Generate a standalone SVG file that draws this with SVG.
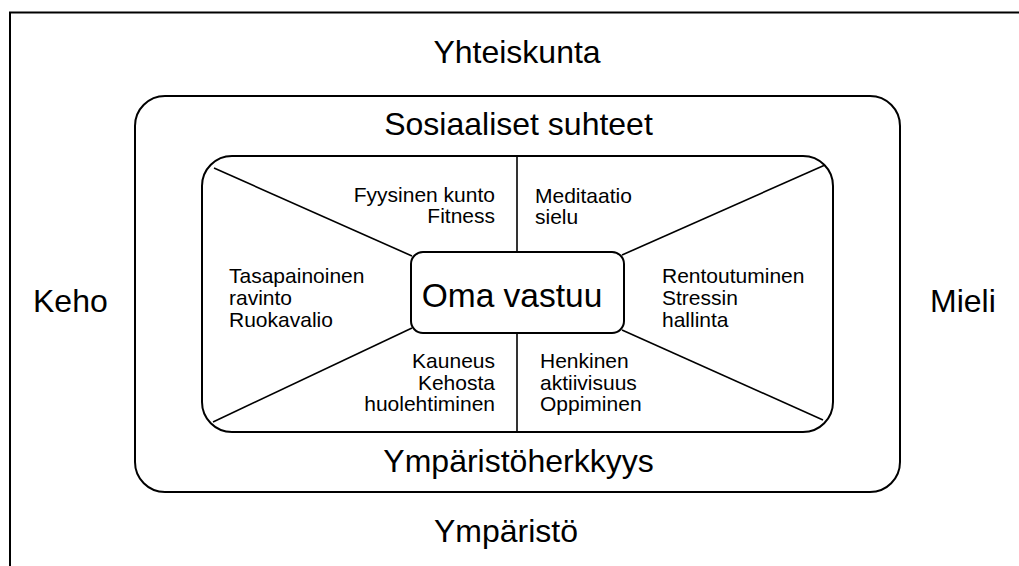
<svg xmlns="http://www.w3.org/2000/svg" width="1019" height="566" viewBox="0 0 1019 566">
<style>
.ln{fill:none;stroke:#000;stroke-width:2}
.th{fill:none;stroke:#000;stroke-width:1.6}
.big{font-family:"Liberation Sans",Arial,sans-serif;font-size:32px;fill:#000}
.ctr{font-family:"Liberation Sans",Arial,sans-serif;font-size:33.5px;fill:#000}
.sm{font-family:"Liberation Sans",Arial,sans-serif;font-size:21px;fill:#000}
.c{text-anchor:middle}
.r{text-anchor:end}
</style>
<rect width="1019" height="566" fill="#fff"/>
<g id="frame">
<path class="ln" d="M10,566 V12.5 H1019"/>
<text class="big c" x="517" y="63">Yhteiskunta</text>
<text class="big c" x="506" y="542">Ympäristö</text>
<text class="big" x="33" y="312">Keho</text>
<text class="big" x="930" y="312">Mieli</text>
</g>
<g id="social">
<rect class="ln" x="135" y="96" width="765" height="396" rx="30" ry="30"/>
<text class="big c" x="518.5" y="135">Sosiaaliset suhteet</text>
<text class="big c" x="518.5" y="472">Ympäristöherkkyys</text>
</g>
<g id="inner">
<rect class="ln" x="202" y="156" width="631" height="276" rx="30" ry="30"/>
</g>
<g id="connectors">
<line class="th" x1="214" y1="168" x2="412" y2="256"/>
<line class="th" x1="213" y1="422" x2="412" y2="328"/>
<line class="th" x1="825" y1="165" x2="622" y2="255"/>
<line class="th" x1="823" y1="420" x2="622" y2="330"/>
<line class="th" x1="517" y1="156" x2="517" y2="252"/>
<line class="th" x1="517" y1="333" x2="517" y2="432"/>
</g>
<g id="center">
<rect class="ln" x="411" y="252" width="213" height="81" rx="12" ry="12" fill="#fff"/>
<text class="ctr c" x="512" y="307">Oma vastuu</text>
</g>
<g id="fitness">
<text class="sm r" x="495" y="202">Fyysinen kunto</text>
<text class="sm r" x="495" y="223">Fitness</text>
</g>
<g id="meditation">
<text class="sm" x="535" y="203">Meditaatio</text>
<text class="sm" x="535" y="224">sielu</text>
</g>
<g id="nutrition">
<text class="sm" x="229" y="283">Tasapainoinen</text>
<text class="sm" x="229" y="305">ravinto</text>
<text class="sm" x="229" y="327">Ruokavalio</text>
</g>
<g id="relaxation">
<text class="sm" x="662" y="283">Rentoutuminen</text>
<text class="sm" x="662" y="305">Stressin</text>
<text class="sm" x="662" y="327">hallinta</text>
</g>
<g id="beauty">
<text class="sm r" x="495" y="368">Kauneus</text>
<text class="sm r" x="495" y="389.5">Kehosta</text>
<text class="sm r" x="495" y="411">huolehtiminen</text>
</g>
<g id="mental">
<text class="sm" x="540" y="368">Henkinen</text>
<text class="sm" x="540" y="389.5">aktiivisuus</text>
<text class="sm" x="540" y="411">Oppiminen</text>
</g>
</svg>
